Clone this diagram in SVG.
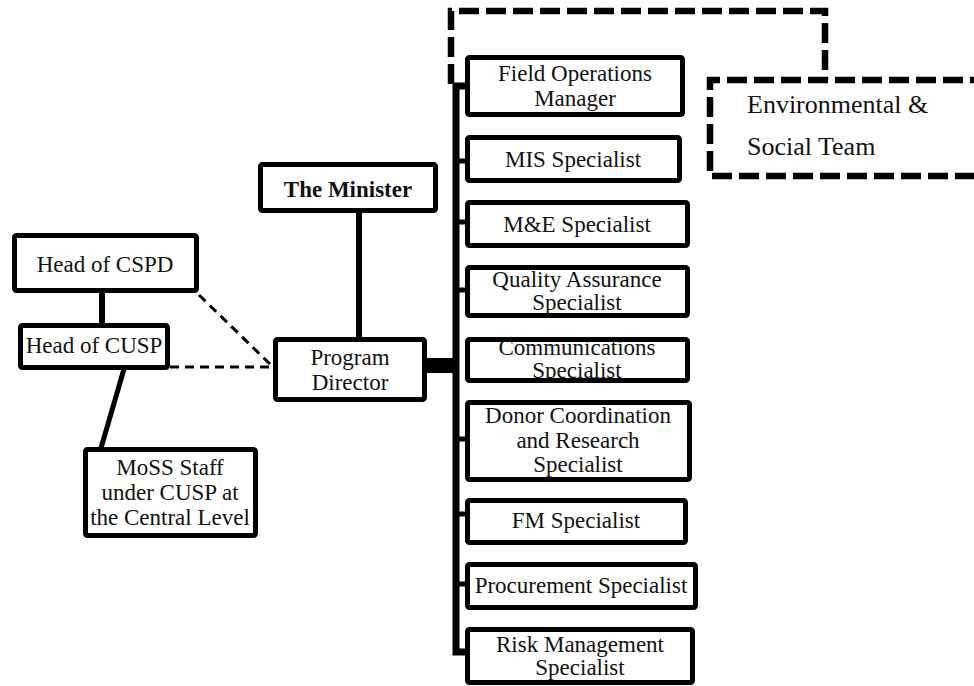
<svg xmlns="http://www.w3.org/2000/svg" width="974" height="686" viewBox="0 0 974 686">
<style>
.box{fill:#fff;stroke:#000;stroke-width:5;}
text{font-family:'Liberation Serif','Times New Roman','DejaVu Serif',serif;fill:#111;}
.t{font-size:23px;text-anchor:middle;}
.b{font-weight:bold;}
.env{font-size:26px;}
.solid{stroke:#000;fill:none;}
.thin{stroke:#000;stroke-width:3;stroke-dasharray:9 6;fill:none;}
.thick{stroke:#000;stroke-width:6.5;stroke-dasharray:20 7;fill:none;}
</style>
<rect width="974" height="686" fill="#fff"/>
<g id="connectors">
<path class="solid" stroke-width="7" d="M468,86 H456 V652 H468"/>
<path class="solid" stroke-width="5" d="M456,161 H468 M456,222 H468 M456,290 H468 M456,439 H468 M456,514 H468 M456,584 H468"/>
<rect x="425" y="358" width="34" height="15" fill="#000"/>
<line class="solid" stroke-width="6" x1="359" y1="212" x2="359" y2="338"/>
<line class="solid" stroke-width="6" x1="102" y1="292" x2="102" y2="324"/>
<line class="solid" stroke-width="5" x1="124" y1="369" x2="101" y2="448"/>
<line class="thin" x1="199" y1="295" x2="272" y2="366"/>
<line class="thin" x1="170" y1="367" x2="272" y2="367"/>
<path class="thick" d="M451,84 V11 H825 V80"/>
</g>
<g id="env-team">
<path class="thick" d="M990,80 H710 V176 H990"/>
<text class="env" x="747" y="113" font-family="Liberation Serif, serif">Environmental &amp;</text>
<text class="env" x="747" y="155" font-family="Liberation Serif, serif">Social Team</text>
</g>
<g id="minister">
<rect class="box" x="260.5" y="164.5" width="175" height="46" rx="2"/>
<text class="t b" x="348" y="197">The Minister</text>
</g>
<g id="head-cspd">
<rect class="box" x="14.5" y="235.5" width="182" height="55" rx="2"/>
<text class="t" x="105" y="272">Head of CSPD</text>
</g>
<g id="head-cusp">
<rect class="box" x="20.5" y="325.5" width="147" height="42" rx="2"/>
<text class="t" x="94" y="353">Head of CUSP</text>
</g>
<g id="program-director">
<rect class="box" x="275.5" y="339.5" width="149" height="60" rx="2"/>
<text class="t" x="350" y="365">Program</text>
<text class="t" x="350" y="390">Director</text>
</g>
<g id="moss-staff">
<rect class="box" x="85.5" y="449.5" width="170" height="86" rx="2"/>
<text class="t" x="170" y="475">MoSS Staff</text>
<text class="t" x="170" y="500">under CUSP at</text>
<text class="t" x="170" y="525">the Central Level</text>
</g>
<g id="field-ops">
<rect class="box" x="467.5" y="57.5" width="215" height="57" rx="2"/>
<text class="t" x="575" y="81">Field Operations</text>
<text class="t" x="575" y="106">Manager</text>
</g>
<g id="mis">
<rect class="box" x="467.5" y="137.5" width="212" height="43" rx="2"/>
<text class="t" x="573" y="167">MIS Specialist</text>
</g>
<g id="me">
<rect class="box" x="467.5" y="202.5" width="220" height="43" rx="2"/>
<text class="t" x="577" y="232">M&amp;E Specialist</text>
</g>
<g id="qa">
<rect class="box" x="467.5" y="267.5" width="220" height="48" rx="2"/>
<text class="t" x="577" y="287">Quality Assurance</text>
<text class="t" x="577" y="310">Specialist</text>
</g>
<g id="comms">
<rect class="box" x="467.5" y="339.5" width="220" height="41" rx="2"/>
<text class="t" x="577" y="355">Communications</text>
<text class="t" x="577" y="378">Specialist</text>
</g>
<g id="donor">
<rect class="box" x="467.5" y="402.5" width="222" height="77" rx="2"/>
<text class="t" x="578" y="423">Donor Coordination</text>
<text class="t" x="578" y="448">and Research</text>
<text class="t" x="578" y="472">Specialist</text>
</g>
<g id="fm">
<rect class="box" x="467.5" y="500.5" width="218" height="42" rx="2"/>
<text class="t" x="576" y="528">FM Specialist</text>
</g>
<g id="procurement">
<rect class="box" x="467.5" y="564.5" width="228" height="43" rx="2"/>
<text class="t" x="581" y="593">Procurement Specialist</text>
</g>
<g id="risk">
<rect class="box" x="467.5" y="629.5" width="225" height="53" rx="2"/>
<text class="t" x="580" y="652">Risk Management</text>
<text class="t" x="580" y="675">Specialist</text>
</g>
</svg>
